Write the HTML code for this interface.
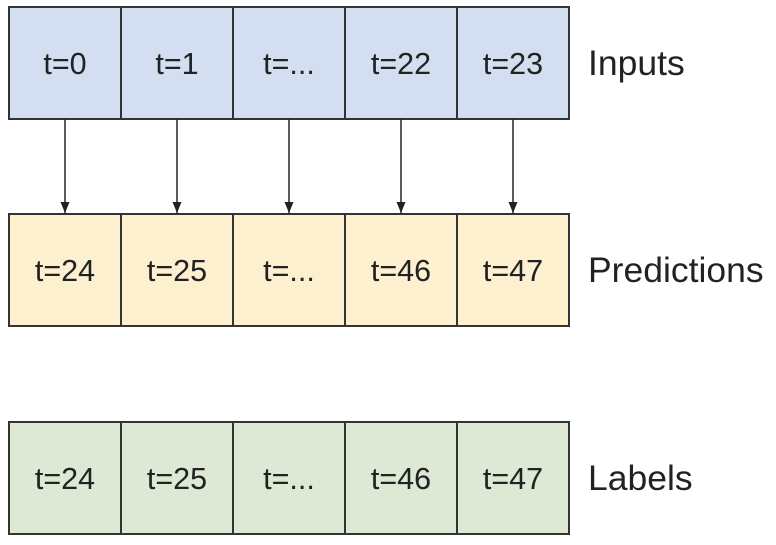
<!DOCTYPE html>
<html><head><meta charset="utf-8"><style>
body{margin:0;background:#fff;width:776px;height:540px;overflow:hidden;}
svg text{font-family:"Liberation Sans",sans-serif;fill:#222;}
</style></head><body>
<svg width="776" height="540">
<defs>
<marker id="a2" markerWidth="10" markerHeight="12" refX="5" refY="11" orient="0" markerUnits="userSpaceOnUse"><path d="M0.5,0 L9.5,0 L5,11 z" fill="#222"/></marker></defs>
<g id="g"></g>
</svg>
<script>
const rows=[["t=0","t=1","t=...","t=22","t=23"],["t=24","t=25","t=...","t=46","t=47"],["t=24","t=25","t=...","t=46","t=47"]];
const rowNames=["Inputs","Predictions","Labels"];
const fills=["#d3dff0","#fdf0cf","#dde8d5"];
const tops=[7,214,422];
const g=document.getElementById('g');
const NS="http://www.w3.org/2000/svg";
const x0=9,w=112,h=112;
function mk(t,a){const e=document.createElementNS(NS,t);for(const k in a)e.setAttribute(k,a[k]);g.appendChild(e);return e;}
rows.forEach((r,ri)=>{
 r.forEach((lab,ci)=>{
  const rc=mk('rect',{x:x0+ci*w,y:tops[ri],width:w,height:h,fill:fills[ri],stroke:'#333','stroke-width':2});
  
  
  const t=mk('text',{x:x0+ci*w+w/2,y:tops[ri]+h/2+11,'text-anchor':'middle','font-size':30.5});
  t.textContent=lab;
  
  
 });
 const t=mk('text',{x:588,y:tops[ri]+h/2+12,'font-size':35.5});
 t.textContent=rowNames[ri];
 
 
});
for(let ci=0;ci<5;ci++){
 const cx=x0+ci*w+w/2;
 const l=mk('line',{x1:cx,y1:tops[0]+h,x2:cx,y2:tops[1]-1,stroke:'#222','stroke-width':1.5,'marker-end':'url(#a2)'});
 
 
}
</script>
</body></html>
